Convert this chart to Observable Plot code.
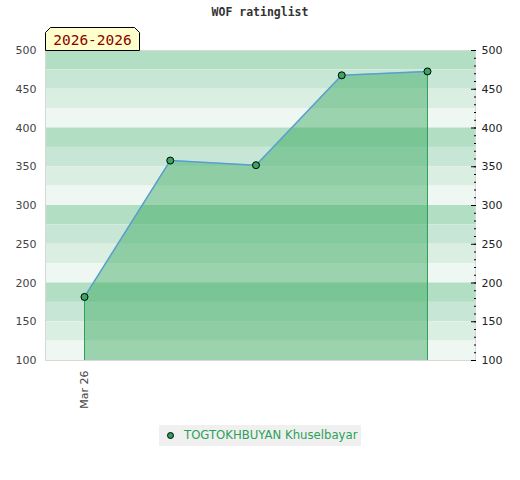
<!DOCTYPE html>
<html>
<head>
<meta charset="utf-8">
<script src="https://cdn.jsdelivr.net/npm/d3@7"></script>
<script src="https://cdn.jsdelivr.net/npm/@observablehq/plot@0.6"></script>
<style>
  body { margin: 0; background: #fff; }
  #wrap { position: relative; width: 520px; height: 480px; overflow: hidden; font-family: "DejaVu Sans", sans-serif; }
  #title { position: absolute; top: 5px; left: 0; width: 520px; text-align: center; font: bold 11.5px "DejaVu Sans Mono", monospace; color: #333; }
  #chart { position: absolute; top: 0; left: 0; }
  #badge { position: absolute; left: 45px; top: 27px; }
  #legend { position: absolute; left: 159px; top: 425px; width: 202px; height: 21px; background: #f0f0f0; }
  #legend .dot { position: absolute; left: 8px; top: 7px; width: 5px; height: 5px; border-radius: 50%; background: #2ca05a; border: 1px solid #000; }
  #legend .lbl { position: absolute; left: 25px; top: 3px; font: 11.7px "DejaVu Sans", sans-serif; color: #2ca05a; white-space: nowrap; }
</style>
</head>
<body>
<div id="wrap">
  <div id="chart"></div>
  <div id="title">WOF ratinglist</div>
  <svg id="badge" width="97" height="24">
    <path d="M0.5,23.5 L0.5,5.5 L5.5,0.5 L89.5,0.5 L94.5,5.5 L94.5,23.5 Z" fill="#ffffcc" stroke="#000" stroke-width="1"/>
    <text x="47.5" y="18" text-anchor="middle" font-family="DejaVu Sans Mono, monospace" font-size="14.5" fill="#8b0000">2026-2026</text>
  </svg>
  <div id="legend"><div class="dot"></div><div class="lbl">TOGTOKHBUYAN Khuselbayar</div></div>
</div>
<script>
// Data
const games = [1, 2, 3, 4, 5];
const ratings = [182, 358, 352, 468, 473];
const xTicks = [1];
const xTickLabels = ["Mar 26"];
const yTicks = [100, 150, 200, 250, 300, 350, 400, 450, 500];
const yMinorTicks = d3.range(100, 501, 10);
const bandColors = ["#b2dec4", "#c8e6d5", "#dbeee2", "#eff7f2"];

const data = games.map((g, i) => ({game: g, rating: ratings[i]}));
const bands = d3.range(500, 100, -25).map((top, i) => ({y1: top - 25, y2: top, color: bandColors[i % 4]}));
const ends = [data[0], data[data.length - 1]];

const chart = Plot.plot({
  width: 520,
  height: 420,
  marginTop: 50,
  marginBottom: 60,
  marginLeft: 45,
  marginRight: 45,
  style: {fontFamily: "DejaVu Sans, sans-serif", fontSize: "11px", color: "#444", background: "transparent"},
  x: {domain: [0.545, 5.56]},
  y: {domain: [100, 500]},
  marks: [
    Plot.rect(bands, {y1: "y1", y2: "y2", fill: "color"}),
    Plot.areaY(data, {x: "game", y1: 100, y2: "rating", fill: "#34a75b", fillOpacity: 0.45}),
    Plot.ruleX(ends, {x: "game", y1: 100, y2: "rating", stroke: "#2ca05a", strokeWidth: 1}),
    Plot.line(data, {x: "game", y: "rating", stroke: "#5a9fd4", strokeWidth: 1.5}),
    Plot.frame({stroke: "#d8d8d8"}),
    Plot.dot(data, {x: "game", y: "rating", r: 3.5, fill: "#3aa760", stroke: "#000", strokeWidth: 1}),
    Plot.axisY(yTicks, {anchor: "left", tickSize: 0, tickPadding: 9, label: null, fill: "#444"}),
    Plot.axisY(yTicks, {anchor: "right", tickSize: 0, tickPadding: 6, label: null, fill: "#222"}),
    Plot.axisY(yTicks, {anchor: "right", tickSize: -5, text: null, label: null, stroke: "#000"}),
    Plot.axisY(yMinorTicks, {anchor: "right", tickSize: -2, text: null, label: null, stroke: "#000"}),
    Plot.axisX(xTicks, {anchor: "bottom", tickSize: 0, tickPadding: 10, tickRotate: -90, tickFormat: (d) => xTickLabels[xTicks.indexOf(d)], label: null, fill: "#444"})
  ]
});
document.getElementById("chart").appendChild(chart);
</script>
</body>
</html>
